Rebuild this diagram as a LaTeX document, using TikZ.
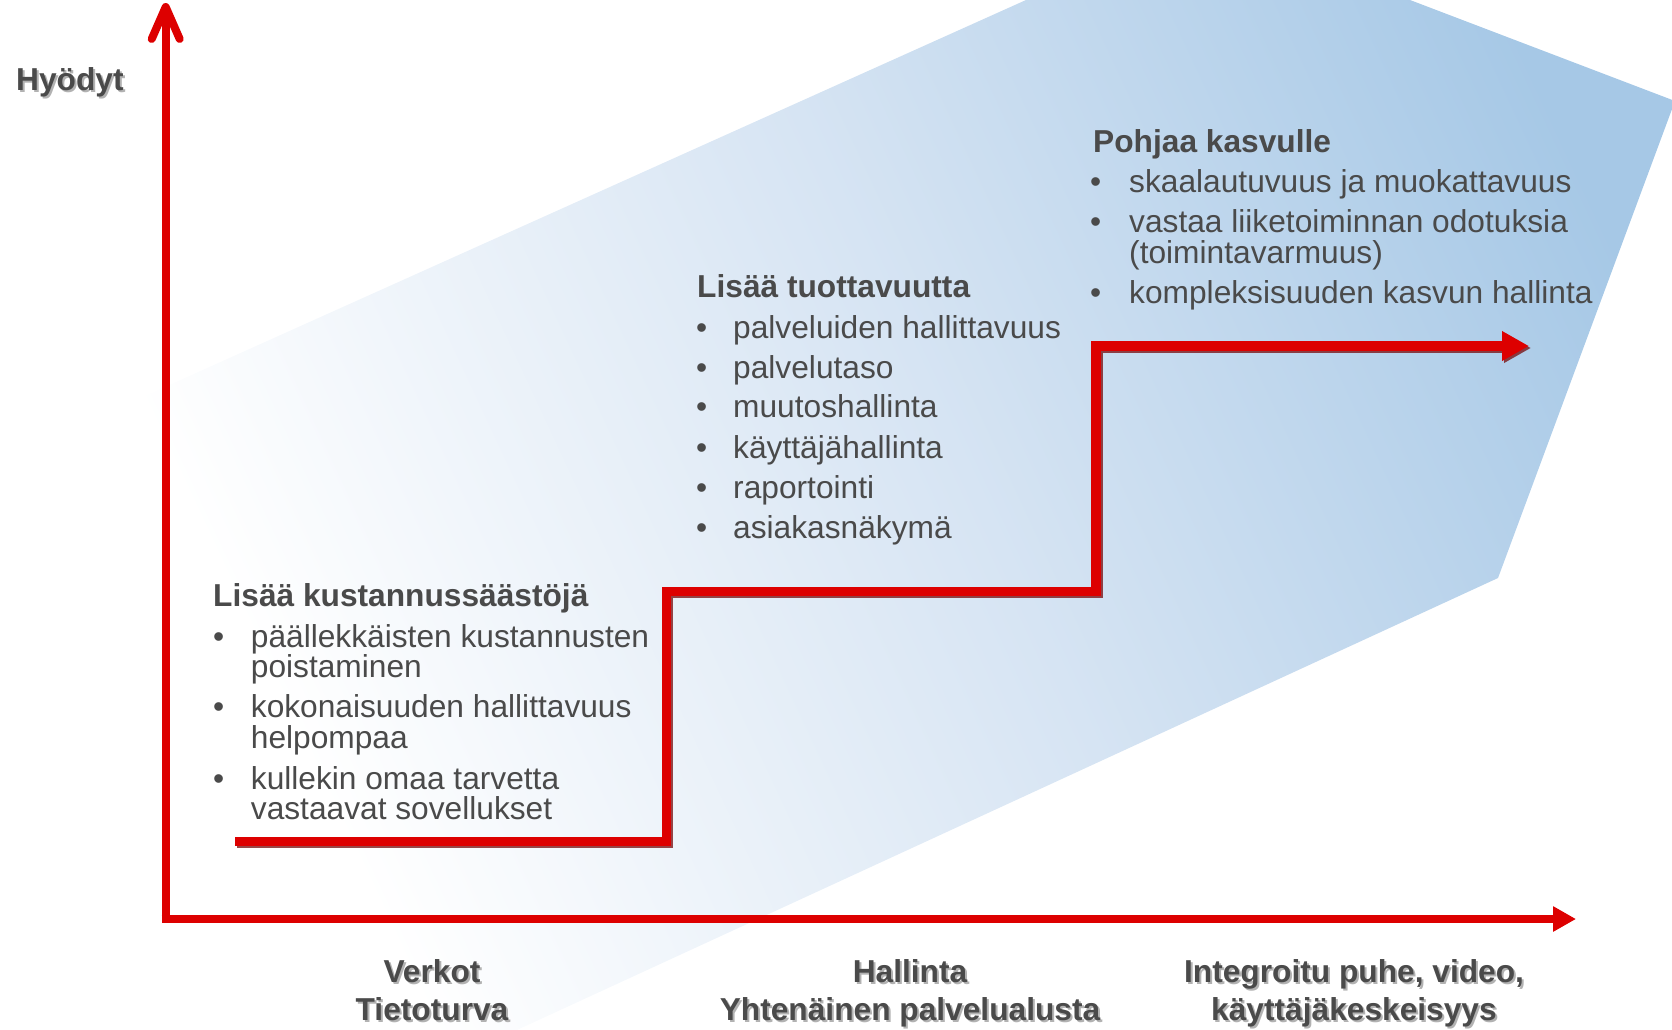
\documentclass[tikz,border=0pt]{standalone}
\usepackage{fontspec}
\setmainfont{Liberation Sans}
\usetikzlibrary{arrows.meta}
\definecolor{axisred}{RGB}{221,0,0}
\definecolor{txtgray}{RGB}{74,74,74}
\definecolor{polyblue}{RGB}{166,200,230}
\definecolor{polymid}{RGB}{214,228,243}
\definecolor{stairshadow}{RGB}{120,10,10}
\pgfdeclarehorizontalshading{bandshade}{100bp}{color(0bp)=(white); color(25bp)=(white); color(32bp)=(white); color(52bp)=(polymid); color(71bp)=(polyblue); color(100bp)=(polyblue)}
\begin{document}
\begin{tikzpicture}[x=1pt,y=-1pt,
  body/.style={font=\fontsize{31.7}{32}\selectfont, text=txtgray, inner sep=0pt, anchor=base west},
  head/.style={body, font=\fontsize{31.7}{32}\selectfont\bfseries},
  bul/.style={body},
  axislabel/.style={font=\fontsize{31.7}{32}\selectfont\bfseries, text=txtgray, inner sep=0pt, anchor=base},
  labelshadow/.style={axislabel, text=black!30},
  axisline/.style={draw=axisred, line width=8pt},
  stair/.style={draw=axisred, line width=9.5pt, line join=miter},
  stairshade/.style={draw=stairshadow, draw opacity=0.75, line width=9.5pt, line join=miter, transform canvas={shift={(2pt,-2pt)}}}
]
\useasboundingbox (0,0) rectangle (1672,1029);
% background band
\begin{scope}
\clip (0,0) rectangle (1672,1029);
\clip (-100,506) -- (1026,0) -- (1410,0) -- (1675,101) -- (1498,578) -- (365,1100) -- (-100,1100) -- cycle;
\coordinate (bandc) at (900,500);
\begin{scope}[transform canvas={rotate around={25:(bandc)}}]
\shade[shading=bandshade] (0,-500) rectangle (1800,1500);
\end{scope}
\end{scope}

% axes
\coordinate (origin) at (165.7,919);
\coordinate (ytop) at (165.7,7);
\coordinate (xend) at (1576,919);
\coordinate (ybarbL) at (151.7,39);
\coordinate (ybarbR) at (179.7,39);
\draw[axisline] (origin) -- (ytop);
\draw[axisline, line cap=round, line join=round] (ybarbL) -- (ytop) -- (ybarbR);
\draw[axisline, line width=7.7pt, -{Triangle[length=23pt,width=24pt]}] ([xshift=-4pt]origin) -- (xend);

% staircase
\coordinate (s0) at (235,841.5);
\coordinate (s1) at (666.7,841.5);
\coordinate (s2) at (666.7,591.7);
\coordinate (s3) at (1096,591.7);
\coordinate (s4) at (1096,346);
\coordinate (s5) at (1529,346);
\draw[stairshade, -{Triangle[length=27pt,width=28pt]}] (s0) -- (s1) -- (s2) -- (s3) -- (s4) -- (s5);
\draw[stair, -{Triangle[length=27pt,width=28pt]}] (s0) -- (s1) -- (s2) -- (s3) -- (s4) -- (s5);

% axis labels
\node[labelshadow, anchor=base west] (hyoS) at (18,92) {Hyödyt};
\node[axislabel, anchor=base west] (hyo) at (16,90) {Hyödyt};

\node[labelshadow] (l1aS) at (434,984) {Verkot};
\node[labelshadow] (l1bS) at (434,1022) {Tietoturva};
\node[labelshadow] (l2aS) at (912,984) {Hallinta};
\node[labelshadow] (l2bS) at (912,1022) {Yhtenäinen palvelualusta};
\node[labelshadow] (l3aS) at (1356,984) {Integroitu puhe, video,};
\node[labelshadow] (l3bS) at (1356,1022) {käyttäjäkeskeisyys};
\node[axislabel] (l1a) at (432,982) {Verkot};
\node[axislabel] (l1b) at (432,1020) {Tietoturva};
\node[axislabel] (l2a) at (910,982) {Hallinta};
\node[axislabel] (l2b) at (910,1020) {Yhtenäinen palvelualusta};
\node[axislabel] (l3a) at (1354,982) {Integroitu puhe, video,};
\node[axislabel] (l3b) at (1354,1020) {käyttäjäkeskeisyys};

% block 1
\node[head] (h1) at (213,606.7) {Lisää kustannussäästöjä};
\node[bul] (b11) at (213,647) {•};
\node[body] (t11a) at (250.7,647) {päällekkäisten kustannusten};
\node[body] (t11b) at (250.7,677) {poistaminen};
\node[bul] (b12) at (213,717) {•};
\node[body] (t12a) at (250.7,717) {kokonaisuuden hallittavuus};
\node[body] (t12b) at (250.7,748) {helpompaa};
\node[bul] (b13) at (213,789) {•};
\node[body] (t13a) at (250.7,789) {kullekin omaa tarvetta};
\node[body] (t13b) at (250.7,819) {vastaavat sovellukset};

% block 2
\node[head] (h2) at (697,297) {Lisää tuottavuutta};
\node[bul] (b21) at (696,338.3) {•};
\node[body] (t21) at (733,338.3) {palveluiden hallittavuus};
\node[bul] (b22) at (696,378.3) {•};
\node[body] (t22) at (733,378.3) {palvelutaso};
\node[bul] (b23) at (696,417.5) {•};
\node[body] (t23) at (733,417.5) {muutoshallinta};
\node[bul] (b24) at (696,458) {•};
\node[body] (t24) at (733,458) {käyttäjähallinta};
\node[bul] (b25) at (696,498) {•};
\node[body] (t25) at (733,498) {raportointi};
\node[bul] (b26) at (696,538) {•};
\node[body] (t26) at (733,538) {asiakasnäkymä};

% block 3
\node[head] (h3) at (1093,152.7) {Pohjaa kasvulle};
\node[bul] (b31) at (1090,192.5) {•};
\node[body] (t31) at (1129,192.5) {skaalautuvuus ja muokattavuus};
\node[bul] (b32) at (1090,232.5) {•};
\node[body] (t32a) at (1129,232.5) {vastaa liiketoiminnan odotuksia};
\node[body] (t32b) at (1129,263.3) {(toimintavarmuus)};
\node[bul] (b33) at (1090,303.8) {•};
\node[body] (t33) at (1129,303.8) {kompleksisuuden kasvun hallinta};
\end{tikzpicture}
\end{document}
